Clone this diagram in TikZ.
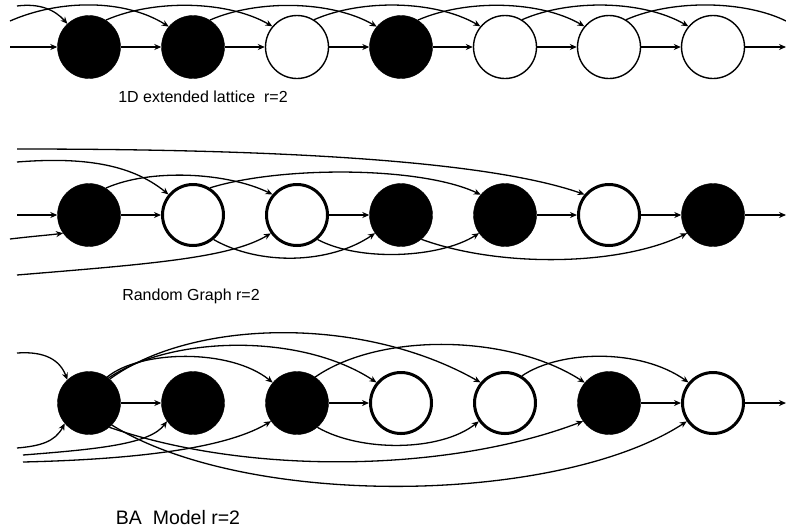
\documentclass[tikz,border=0pt]{standalone}
\usepackage{fontspec}
\setmainfont{Liberation Sans}
\usetikzlibrary{arrows.meta}

\begin{document}
\begin{tikzpicture}[x=1pt,y=-1pt,>={Stealth[length=7pt,width=6pt]},
	blk/.style={circle,minimum size=63pt,inner sep=0pt,fill=black,draw=black},
	wht/.style={circle,minimum size=63pt,inner sep=0pt,fill=white,draw=black,line width=1.4pt},
	whtb/.style={circle,minimum size=61pt,inner sep=0pt,fill=white,draw=black,line width=3pt},
	edge/.style={line width=1.3pt,->},
	lbl/.style={font=\fontsize{16}{19}\selectfont}]
		\useasboundingbox (0,0) rectangle (786,531);
		
		% Define free ends of the outer connectors
		\coordinate (ain) at (10,47);
		\coordinate (aout) at (786,47);
		\coordinate (atop1) at (17,6);
		\coordinate (atop2) at (10,21);
		\coordinate (aend) at (786,21);
		\coordinate (bin) at (17,215);
		\coordinate (bout) at (786,215);
		\coordinate (btop1) at (17,149);
		\coordinate (btop2) at (17,162);
		\coordinate (bbot1) at (10,239);
		\coordinate (bbot2) at (17,275);
		\coordinate (cout) at (786,403);
		\coordinate (ctop1) at (17,353);
		\coordinate (cbot1) at (17,448);
		\coordinate (cbot2) at (23,455);
		\coordinate (cbot3) at (23,462);
		
		% Draw the 1D extended lattice
		\node[blk] (a1) at (89,47) {};
		\node[blk] (a2) at (193,47) {};
		\node[wht] (a3) at (297,47) {};
		\node[blk] (a4) at (401,47) {};
		\node[wht] (a5) at (505,47) {};
		\node[wht] (a6) at (609,47) {};
		\node[wht] (a7) at (713,47) {};
		\node[lbl] (la) at (203,97) {1D extended lattice\ \ r=2};
		
		\draw[edge] (ain) -- (a1);
		\draw[edge] (a1) -- (a2);
		\draw[edge] (a2) -- (a3);
		\draw[edge] (a3) -- (a4);
		\draw[edge] (a4) -- (a5);
		\draw[edge] (a5) -- (a6);
		\draw[edge] (a6) -- (a7);
		\draw[edge] (a7) -- (aout);
		\draw[edge] (atop1) .. controls (40,3) and (55,10) .. (a1.133);
		\draw[edge] (atop2) .. controls (60,-1) and (125,-1) .. (a2.140);
		\draw[edge] (a1.58) .. controls +(48,-21) and +(-45,-26) .. (a3.140);
		\draw[edge] (a2.58) .. controls +(48,-21) and +(-45,-26) .. (a4.140);
		\draw[edge] (a3.58) .. controls +(48,-21) and +(-45,-26) .. (a5.140);
		\draw[edge] (a4.58) .. controls +(48,-21) and +(-45,-26) .. (a6.140);
		\draw[edge] (a5.58) .. controls +(48,-21) and +(-45,-26) .. (a7.140);
		\draw[line width=1.3pt] (a6.58) .. controls +(48,-21) and +(-40,-20) .. (aend);
		
		% Draw the random graph
		\node[blk] (b1) at (89,215) {};
		\node[whtb] (b2) at (193,215) {};
		\node[whtb] (b3) at (297,215) {};
		\node[blk] (b4) at (401,215) {};
		\node[blk] (b5) at (505,215) {};
		\node[whtb] (b6) at (609,215) {};
		\node[blk] (b7) at (713,215) {};
		\node[lbl] (lb) at (191,296) {Random Graph r=2};
		
		\draw[edge] (bin) -- (b1);
		\draw[edge] (b1) -- (b2);
		\draw[edge] (b3) -- (b4);
		\draw[edge] (b5) -- (b6);
		\draw[edge] (b6) -- (b7);
		\draw[edge] (b7) -- (bout);
		\draw[edge] (btop1) .. controls (250,149) and (480,158) .. (b6.140);
		\draw[edge] (btop2) .. controls (80,157) and (130,163) .. (b2.140);
		\draw[edge] (b1.58) .. controls +(45,-20) and +(-45,-22) .. (b3.140);
		\draw[edge] (b2.58) .. controls (280,166) and (420,166) .. (b5.140);
		\draw[edge] (bbot1) .. controls (35,236) and (50,235) .. (b1.215);
		\draw[edge] (bbot2) .. controls (150,264) and (230,258) .. (b3.215);
		\draw[edge] (b2.-50) .. controls (260,266) and (330,264) .. (b4.215);
		\draw[edge] (b3.-50) .. controls (360,262) and (440,258) .. (b5.215);
		\draw[edge] (b4.-50) .. controls (500,268) and (620,266) .. (b7.215);
		
		% Draw the BA model
		\node[blk] (c1) at (89,403) {};
		\node[blk] (c2) at (193,403) {};
		\node[blk] (c3) at (297,403) {};
		\node[whtb] (c4) at (401,403) {};
		\node[whtb] (c5) at (505,403) {};
		\node[blk] (c6) at (609,403) {};
		\node[whtb] (c7) at (713,403) {};
		\node[lbl,font=\fontsize{19.5}{23}\selectfont] (lc) at (178,518) {BA\ \ Model r=2};
		
		\draw[edge] (c1) -- (c2);
		\draw[edge] (c3) -- (c4);
		\draw[edge] (c6) -- (c7);
		\draw[edge] (c7) -- (cout);
		\draw[edge] (ctop1) .. controls (45,351) and (60,360) .. (c1.133);
		\draw[edge] (cbot1) .. controls (40,446) and (55,442) .. (c1.220);
		\draw[edge] (cbot2) .. controls (100,449) and (150,444) .. (c2.215);
		\draw[edge] (cbot3) .. controls (150,459) and (230,446) .. (c3.215);
		\draw[edge] (c1.55) .. controls (140,350) and (230,348) .. (c3.140);
		\draw[edge] (c1.52) .. controls (170,336) and (300,332) .. (c4.140);
		\draw[edge] (c1.49) .. controls (190,320) and (360,314) .. (c5.140);
		\draw[edge] (c3.55) .. controls (380,332) and (510,334) .. (c6.140);
		\draw[edge] (c5.58) .. controls (560,350) and (640,348) .. (c7.140);
		\draw[edge] (c1.-50) .. controls (250,476) and (450,472) .. (c6.215);
		\draw[edge] (c1.-44) .. controls (250,510) and (560,504) .. (c7.215);
		\draw[edge] (c3.-50) .. controls (360,452) and (440,452) .. (c5.215);
		
\end{tikzpicture}
\end{document}
